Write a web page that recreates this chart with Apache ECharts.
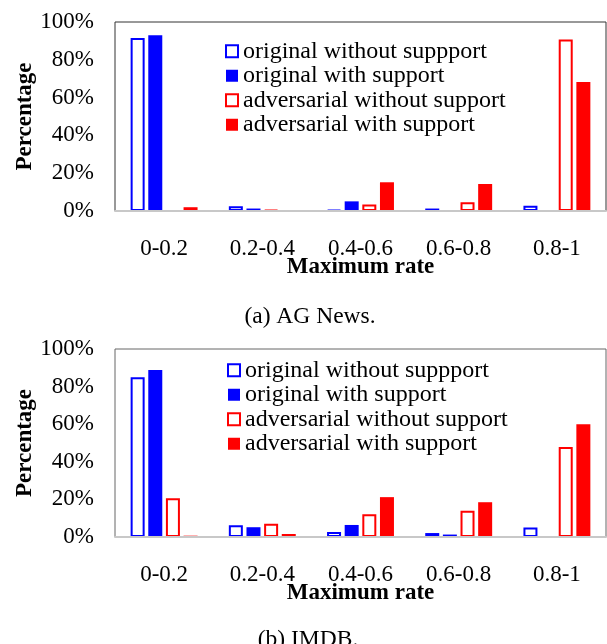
<!DOCTYPE html>
<html>
<head>
<meta charset="utf-8">
<script src="https://cdn.jsdelivr.net/npm/echarts@6/dist/echarts.min.js"></script>
<style>html,body{margin:0;padding:0;background:#fff}#c{width:607px;height:644px}</style>
</head>
<body>
<div id="c"></div>
<script>
const categories = ['0-0.2', '0.2-0.4', '0.4-0.6', '0.6-0.8', '0.8-1'];
const seriesNames = ['original without suppport', 'original with support', 'adversarial without support', 'adversarial with support'];
const yTicks = [0, 20, 40, 60, 80, 100];
// (a) AG News
const agOrigWithout = [91.5, 2.5, 0.6, 1.3, 2.8];
const agOrigWith = [93, 1.3, 5.1, 0, 0.4];
const agAdvWithout = [0, 0.6, 3.5, 4.6, 90.8];
const agAdvWith = [2, 0.4, 15.2, 14.3, 68.3];
// (b) IMDB
const imOrigWithout = [85, 6.2, 2.7, 2.1, 5];
const imOrigWith = [88.8, 5.2, 6.4, 1.3, 0];
const imAdvWithout = [20.6, 7.1, 12.1, 13.9, 47.9];
const imAdvWith = [0.7, 1.6, 21.2, 18.5, 60];

const FONT = 'Liberation Serif';
const BLUE = '#0000ff', RED = '#ff0000';
const styles = [
  {color: '#ffffff', borderColor: BLUE, borderWidth: 2},
  {color: BLUE, borderColor: BLUE, borderWidth: 0},
  {color: '#ffffff', borderColor: RED, borderWidth: 2},
  {color: RED, borderColor: RED, borderWidth: 0}
];

function mkSeries(dataArr, idx) {
  return dataArr.map((d, i) => ({
    name: seriesNames[i],
    type: 'bar',
    xAxisIndex: idx, yAxisIndex: idx,
    data: d,
    barWidth: 14,
    barGap: '26%',
    itemStyle: styles[i],
    emphasis: {disabled: true},
    z: 3
  }));
}

function xAxis(idx) {
  return {
    type: 'category', gridIndex: idx, data: categories, z: 5,
    axisLine: {lineStyle: {color: '#c8c8c8', width: 2}},
    axisTick: {show: false},
    axisLabel: {fontFamily: FONT, fontSize: 23, color: '#000', margin: 26},
    name: 'Maximum rate', nameLocation: 'middle', nameGap: 45, nameMoveOverlap: false,
    nameTextStyle: {fontFamily: FONT, fontSize: 23, fontWeight: 'bold', color: '#000', verticalAlign: 'top'}
  };
}
function yAxis(idx) {
  return {
    type: 'value', gridIndex: idx, min: yTicks[0], max: yTicks[yTicks.length - 1], interval: 20,
    axisLine: {show: false}, axisTick: {show: false}, splitLine: {show: false},
    axisLabel: {fontFamily: FONT, fontSize: 23, color: '#000', margin: 21, formatter: '{value}%'},
    name: 'Percentage', nameLocation: 'middle', nameGap: 78, nameMoveOverlap: false,
    nameTextStyle: {fontFamily: FONT, fontSize: 23, fontWeight: 'bold', color: '#000'}
  };
}
function legend(top, left) {
  return {
    orient: 'vertical', left: left, top: top, data: seriesNames, padding: 0,
    icon: 'rect', itemWidth: 12, itemHeight: 12, itemGap: 0, itemTextGap: 6,
    selectedMode: false,
    textStyle: {fontFamily: FONT, fontSize: 24, color: '#000', lineHeight: 24.5}
  };
}

const chart = echarts.init(document.getElementById('c'), null, {renderer: 'canvas'});
chart.setOption({
  animation: false,
  backgroundColor: '#fff',
  grid: [
    {left: 115, right: 1, top: 22, height: 189, show: true, borderColor: '#333', borderWidth: 1, backgroundColor: 'transparent'},
    {left: 115, right: 1, top: 349, height: 188, show: true, borderColor: '#666', borderWidth: 1, backgroundColor: 'transparent'}
  ],
  xAxis: [xAxis(0), xAxis(1)],
  yAxis: [yAxis(0), yAxis(1)],
  legend: [legend(39, 225), legend(358, 227)],
  graphic: [
    {type: 'text', x: 310, y: 317, style: {text: '(a) AG News.', fontFamily: FONT, fontSize: 23.5, fill: '#000', align: 'center', verticalAlign: 'middle'}},
    {type: 'text', x: 308, y: 640, style: {text: '(b) IMDB.', fontFamily: FONT, fontSize: 23.5, fill: '#000', align: 'center', verticalAlign: 'middle'}}
  ],
  series: [
    ...mkSeries([agOrigWithout, agOrigWith, agAdvWithout, agAdvWith], 0),
    ...mkSeries([imOrigWithout, imOrigWith, imAdvWithout, imAdvWith], 1)
  ]
});
</script>
</body>
</html>
